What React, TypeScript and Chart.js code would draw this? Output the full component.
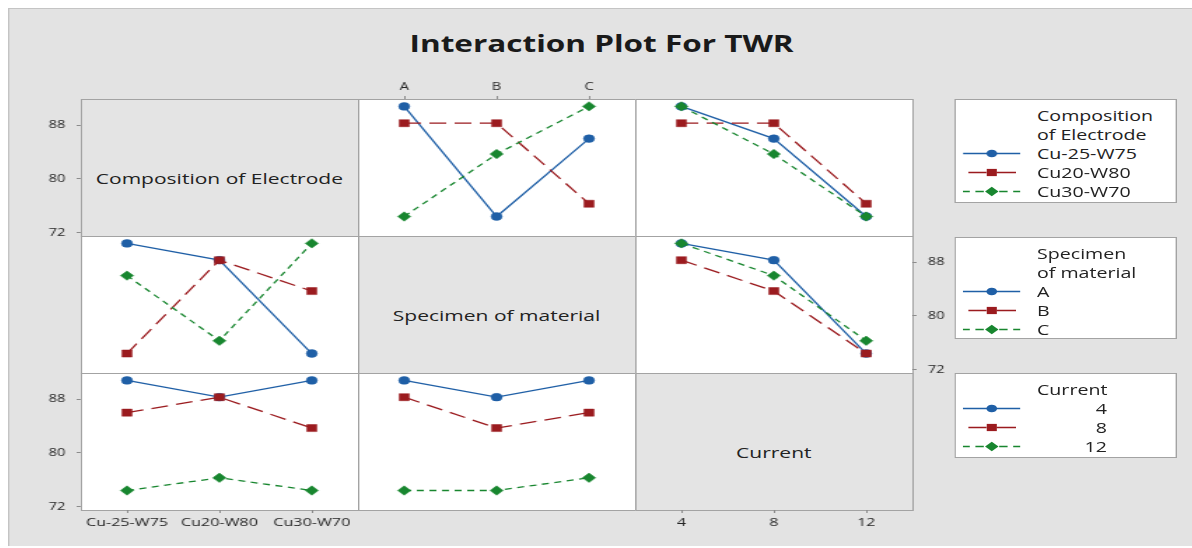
import React, { useEffect, useRef } from "react";
import { Chart, registerables } from "chart.js";

Chart.register(...registerables);

// Factor levels
const compositions = ["Cu-25-W75", "Cu20-W80", "Cu30-W70"];
const specimens = ["A", "B", "C"];
const currents = ["4", "8", "12"];

// Mean TWR, rows = composition, columns = specimen A, B, C
const twrCompSpecimen = [
  [90.8, 74.4, 86.0],
  [88.3, 88.3, 76.3],
  [74.4, 83.7, 90.8],
];
// Mean TWR, rows = composition, columns = current 4, 8, 12
const twrCompCurrent = [
  [90.8, 86.0, 74.4],
  [88.3, 88.3, 76.3],
  [90.8, 83.7, 74.4],
];
// Mean TWR, rows = specimen A, B, C, columns = current 4, 8, 12
const twrSpecimenCurrent = [
  [90.8, 88.3, 74.4],
  [88.3, 83.7, 74.4],
  [90.8, 86.0, 76.3],
];

const yTickValues = [72, 80, 88];
const yMin = 71.5;
const yMax = 91.9;

// Series styling (1st, 2nd, 3rd level of the trace factor)
const seriesColors = ["#1F5FA6", "#9B1B1F", "#18862F"];
const seriesDash: number[][] = [[], [12, 6], [5, 4]];
const seriesPoint = ["circle", "rect", "rectRot"];
const seriesRadius = [3.9, 5, 4.7];

// Layout (unstretched units; the figure is widened by STRETCH)
const STRETCH = 1.4;
const FIG_W = 846;
const FIG_H = 538;
const GRID_LEFT = 51;
const GRID_TOP = 90;
const CELL_W = 198;
const CELL_H = 137;
const MARGIN = 30;
const FONT = "'Open Sans', 'DejaVu Sans', sans-serif";

const transpose = (m: number[][]) => m[0].map((_, j) => m.map((r) => r[j]));

type Axes = { left?: boolean; right?: boolean; top?: boolean; bottom?: boolean };
type CellSpec = {
  row: number;
  col: number;
  labels: string[];
  series: number[][];
  diag?: string;
  axes: Axes;
};

const cells: CellSpec[] = [
  { row: 0, col: 0, labels: compositions, series: [], diag: "Composition of Electrode", axes: { left: true } },
  { row: 0, col: 1, labels: specimens, series: twrCompSpecimen, axes: { top: true } },
  { row: 0, col: 2, labels: currents, series: twrCompCurrent, axes: {} },
  { row: 1, col: 0, labels: compositions, series: transpose(twrCompSpecimen), axes: {} },
  { row: 1, col: 1, labels: specimens, series: [], diag: "Specimen of material", axes: {} },
  { row: 1, col: 2, labels: currents, series: twrSpecimenCurrent, axes: { right: true } },
  { row: 2, col: 0, labels: compositions, series: transpose(twrCompCurrent), axes: { left: true, bottom: true } },
  { row: 2, col: 1, labels: specimens, series: transpose(twrSpecimenCurrent), axes: {} },
  { row: 2, col: 2, labels: currents, series: [], diag: "Current", axes: { bottom: true } },
];

function buildConfig(cell: CellSpec): any {
  const M = MARGIN;
  // Axes on a side take exactly the margin, hidden ones take nothing,
  // so the plot area always lands on the panel.
  const fixSize = (scale: any) => {
    const size = scale.options.display ? M : 0;
    if (scale.isHorizontal()) scale.height = size;
    else scale.width = size;
    scale.paddingTop = 0;
    scale.paddingBottom = 0;
    scale.paddingLeft = 0;
    scale.paddingRight = 0;
  };
  const showX = !!(cell.axes.top || cell.axes.bottom);
  const xPos = cell.axes.top ? "top" : "bottom";
  const showY = !!(cell.axes.left || cell.axes.right);
  const yPos = cell.axes.right ? "right" : "left";
  return {
    type: "line",
    data: {
      labels: cell.labels,
      datasets: cell.series.map((vals, i) => ({
        data: vals,
        borderColor: seriesColors[i],
        backgroundColor: seriesColors[i],
        borderWidth: 1.3,
        borderDash: seriesDash[i],
        pointStyle: seriesPoint[i],
        pointRadius: seriesRadius[i],
        pointBackgroundColor: seriesColors[i],
        pointBorderColor: seriesColors[i],
        pointBorderWidth: 0.5,
        tension: 0,
        fill: false,
        order: 3 - i,
      })),
    },
    options: {
      animation: false,
      responsive: false,
      maintainAspectRatio: false,
      events: [],
      layout: {
        padding: {
          left: showY && yPos === "left" ? 0 : M,
          right: showY && yPos === "right" ? 0 : M,
          top: showX && xPos === "top" ? 0 : M,
          bottom: showX && xPos === "bottom" ? 0 : M,
        },
      },
      plugins: {
        legend: { display: false },
        tooltip: { enabled: false },
        title: { display: false },
      },
      scales: {
        x: {
          type: "category",
          position: xPos,
          display: showX,
          offset: true,
          grid: { offset: false, drawOnChartArea: false, drawTicks: true, tickLength: 3, color: "#8c8c8c" },
          border: { display: false },
          ticks: {
            font: { family: FONT, size: xPos === "top" ? 10.5 : 11.5 },
            color: "#262626",
            padding: 3,
            maxRotation: 0,
            autoSkip: false,
          },
          afterFit: fixSize,
        },
        y: {
          type: "linear",
          position: yPos,
          display: showY,
          min: yMin,
          max: yMax,
          afterBuildTicks: (scale: any) => {
            scale.ticks = yTickValues.map((v) => ({ value: v }));
          },
          grid: { drawOnChartArea: false, drawTicks: true, tickLength: 3, color: "#8c8c8c" },
          border: { display: false },
          ticks: { font: { family: FONT, size: 10.5 }, color: "#262626", padding: 8 },
          afterFit: fixSize,
        },
      },
    },
  };
}

function PanelChart({ cell }: { cell: CellSpec }) {
  const ref = useRef<HTMLCanvasElement>(null);
  useEffect(() => {
    const chart = new Chart(ref.current as HTMLCanvasElement, buildConfig(cell));
    return () => chart.destroy();
  }, [cell]);
  const w = CELL_W + 2 * MARGIN;
  const h = CELL_H + 2 * MARGIN;
  return (
    <canvas
      ref={ref}
      width={w}
      height={h}
      style={{
        position: "absolute",
        left: GRID_LEFT + cell.col * CELL_W - MARGIN,
        top: GRID_TOP + cell.row * CELL_H - MARGIN,
        width: w,
        height: h,
      }}
    />
  );
}

function CellFrame({ cell }: { cell: CellSpec }) {
  return (
    <div
      style={{
        position: "absolute",
        left: GRID_LEFT + cell.col * CELL_W,
        top: GRID_TOP + cell.row * CELL_H,
        width: CELL_W + 1,
        height: CELL_H + 1,
        boxSizing: "border-box",
        border: "1px solid #a3a3a3",
        background: cell.diag ? "#e4e4e4" : "#ffffff",
      }}
    />
  );
}

function DiagLabel({ cell }: { cell: CellSpec }) {
  return (
    <div
      style={{
        position: "absolute",
        left: GRID_LEFT + cell.col * CELL_W,
        top: GRID_TOP + cell.row * CELL_H + 20,
        width: CELL_W,
        height: CELL_H - 20,
        display: "flex",
        alignItems: "center",
        justifyContent: "center",
        fontFamily: FONT,
        fontSize: 15,
        color: "#222",
        whiteSpace: "nowrap",
      }}
    >
      {cell.diag}
    </div>
  );
}

// Line segments of each legend key, in px from the key's left end
const legendSegments = [
  [[0, 41]],
  [[4, 17], [24, 38]],
  [[0, 5], [9, 15], [26, 32], [36, 41]],
];

function LegendKey({ i }: { i: number }) {
  const c = seriesColors[i];
  const cx = 20.7;
  const cy = 9.5;
  let marker: React.ReactNode;
  if (i === 0) marker = <circle cx={cx} cy={cy} r={3.8} fill={c} />;
  else if (i === 1) marker = <rect x={cx - 3.6} y={cy - 3.6} width={7.2} height={7.2} fill={c} />;
  else
    marker = (
      <polygon
        points={`${cx - 4.8},${cy} ${cx},${cy - 4.8} ${cx + 4.8},${cy} ${cx},${cy + 4.8}`}
        fill={c}
      />
    );
  return (
    <svg width={42} height={19} style={{ position: "absolute", left: 5, top: 0 }}>
      {legendSegments[i].map(([a, b], k) => (
        <line key={k} x1={a} y1={cy} x2={b} y2={cy} stroke={c} strokeWidth={1.3} />
      ))}
      {marker}
    </svg>
  );
}

function LegendBox({
  top,
  height,
  heading,
  items,
  alignRight,
}: {
  top: number;
  height: number;
  heading: string[];
  items: string[];
  alignRight?: boolean;
}) {
  const rows = heading.length + items.length;
  return (
    <div
      style={{
        position: "absolute",
        left: 675,
        top,
        width: 159,
        height,
        boxSizing: "border-box",
        border: "1px solid #a3a3a3",
        background: "#ffffff",
        fontFamily: FONT,
        fontSize: 14,
        color: "#222",
      }}
    >
      {Array.from({ length: rows }).map((_, r) => {
        const isHead = r < heading.length;
        const idx = r - heading.length;
        return (
          <div
            key={r}
            style={{ position: "absolute", left: 0, top: 5.5 + r * 19, width: 157, height: 19, lineHeight: "19px" }}
          >
            {!isHead && <LegendKey i={idx} />}
            <div
              style={
                !isHead && alignRight
                  ? { position: "absolute", right: 49, top: 0, textAlign: "right", whiteSpace: "nowrap" }
                  : { position: "absolute", left: 58, top: 0, whiteSpace: "nowrap" }
              }
            >
              {isHead ? heading[r] : items[idx]}
            </div>
          </div>
        );
      })}
    </div>
  );
}

export default function App() {
  return (
    <div
      style={{
        position: "absolute",
        left: 0,
        top: 0,
        width: 1192,
        height: 548,
        overflow: "hidden",
        background: "#ffffff",
      }}
    >
      <div
        style={{
          position: "absolute",
          left: 8,
          top: 8,
          width: FIG_W,
          height: FIG_H,
          transform: `scaleX(${STRETCH})`,
          transformOrigin: "0 0",
          background: "#e3e3e3",
          boxSizing: "border-box",
          borderTop: "1px solid #c4c4c4",
          borderLeft: "1px solid #c4c4c4",
        }}
      >
        <div
          style={{
            position: "absolute",
            left: 0,
            top: 23.8,
            width: FIG_W,
            textAlign: "center",
            fontFamily: FONT,
            fontWeight: 700,
            fontSize: 22.5,
            lineHeight: "22.5px",
            color: "#1a1a1a",
            whiteSpace: "nowrap",
          }}
        >
          Interaction Plot For TWR
        </div>
        {cells.map((c) => (
          <CellFrame key={`f${c.row}${c.col}`} cell={c} />
        ))}
        {cells.filter((c) => c.diag).map((c) => (
          <DiagLabel key={`d${c.row}${c.col}`} cell={c} />
        ))}
        {cells.map((c) => (
          <PanelChart key={`c${c.row}${c.col}`} cell={c} />
        ))}
        <LegendBox top={90} height={104} heading={["Composition", "of Electrode"]} items={compositions} />
        <LegendBox top={228} height={102} heading={["Specimen", "of material"]} items={specimens} />
        <LegendBox top={364} height={85} heading={["Current"]} items={currents} alignRight />
      </div>
    </div>
  );
}
